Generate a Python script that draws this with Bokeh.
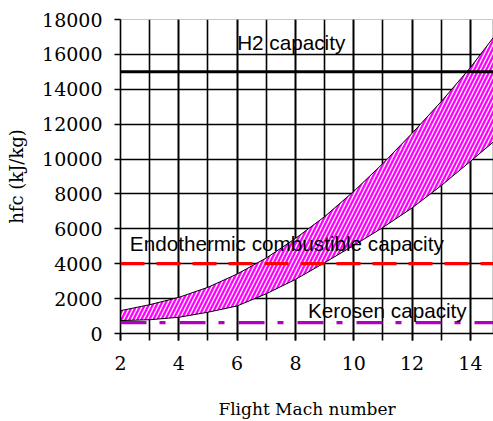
from bokeh.plotting import figure
from bokeh.models import Range1d, Span, Label, FixedTicker
from bokeh.embed import file_html
from bokeh.resources import INLINE

# Flight Mach number samples for the required heat-sink band
mach = [2, 3, 4, 5, 6, 7, 8, 9, 10, 11, 12, 13, 14, 14.8]
# Upper and lower bounds of the required fuel heat capacity (kJ/kg)
hfc_upper = [1310, 1650, 2070, 2650, 3410, 4330, 5450, 6700, 8150, 9750, 11480, 13300, 15250, 17000]
hfc_lower = [740, 790, 930, 1220, 1580, 2280, 3100, 4060, 5050, 6080, 7200, 8480, 9870, 11000]

# Fuel cooling capacities (kJ/kg)
h2_capacity = 15000
endothermic_capacity = 4000
kerosene_capacity = 620

x_ticks = [2, 4, 6, 8, 10, 12, 14]
x_minor = [2, 3, 4, 5, 6, 7, 8, 9, 10, 11, 12, 13, 14]
y_ticks = [0, 2000, 4000, 6000, 8000, 10000, 12000, 14000, 16000, 18000]

p = figure(
    width=493, height=421,
    output_backend="svg", toolbar_location=None,
    x_range=Range1d(2, 14.79), y_range=Range1d(0, 18000),
    min_border_left=120, min_border_right=0,
    min_border_top=19, min_border_bottom=88,
)
p.background_fill_color = "white"
p.border_fill_color = "white"
p.outline_line_color = "#c8c8c8"
p.outline_line_width = 1

serif = "DejaVu Serif"
sans = "Liberation Sans"

# x axis
p.xaxis.ticker = FixedTicker(ticks=x_ticks, minor_ticks=x_minor)
p.xaxis.axis_label = "Flight Mach number"
p.xaxis.axis_label_text_font = serif
p.xaxis.axis_label_text_font_size = "17px"
p.xaxis.axis_label_text_font_style = "normal"
p.xaxis.axis_label_text_color = "black"
p.xaxis.axis_label_standoff = 26
p.xaxis.major_label_text_font = serif
p.xaxis.major_label_text_font_size = "19px"
p.xaxis.major_label_text_color = "black"
p.xaxis.major_label_standoff = 15
p.xaxis.major_tick_out = 7
p.xaxis.major_tick_in = 0
p.xaxis.minor_tick_out = 7
p.xaxis.minor_tick_in = 0

# y axis
p.yaxis.ticker = FixedTicker(ticks=y_ticks, minor_ticks=[])
p.yaxis.axis_label = "hfc (kJ/kg)"
p.yaxis.axis_label_text_font = serif
p.yaxis.axis_label_text_font_size = "18px"
p.yaxis.axis_label_text_font_style = "normal"
p.yaxis.axis_label_text_color = "black"
p.yaxis.axis_label_standoff = 12
p.yaxis.major_label_text_font = serif
p.yaxis.major_label_text_font_size = "19px"
p.yaxis.major_label_text_color = "black"
p.yaxis.major_label_standoff = 12
p.yaxis.major_tick_out = 6
p.yaxis.major_tick_in = 0

for ax in (p.xaxis, p.yaxis):
    ax.axis_line_color = "black"
    ax.axis_line_width = 1.6
    ax.major_tick_line_color = "black"
    ax.major_tick_line_width = 1.6
    ax.minor_tick_line_color = "black"
    ax.minor_tick_line_width = 1.6

# grid: every Mach number, every 2000 kJ/kg
p.xgrid.ticker = FixedTicker(ticks=x_ticks, minor_ticks=x_minor)
p.xgrid.grid_line_color = "black"
p.xgrid.grid_line_width = 1.6
p.xgrid.minor_grid_line_color = "black"
p.xgrid.minor_grid_line_width = 1.6
p.ygrid.ticker = FixedTicker(ticks=y_ticks)
p.ygrid.grid_line_color = "black"
p.ygrid.grid_line_width = 1.6

# hatched band of required heat sink
p.varea(
    x=mach, y1=hfc_lower, y2=hfc_upper,
    fill_color="#FF00FF",
    hatch_pattern="/", hatch_color="white",
    hatch_scale=8, hatch_weight=1.3,
)
p.line(mach, hfc_upper, line_color="black", line_width=1)
p.line(mach, hfc_lower, line_color="black", line_width=1)

# capacity levels
p.add_layout(Span(location=h2_capacity, dimension="width",
                  line_color="black", line_width=3))
p.add_layout(Span(location=endothermic_capacity, dimension="width",
                  line_color="#FF0000", line_width=3.3, line_dash="24 12"))
p.add_layout(Span(location=kerosene_capacity, dimension="width",
                  line_color="#B000C0", line_width=3.3, line_dash="26 13 6 14"))

label_style = dict(text_font=sans, text_font_size="20.7px",
                   text_color="black", text_baseline="alphabetic")
p.add_layout(Label(x=6.0, y=16700, text="H2 capacity", **label_style))
p.add_layout(Label(x=2.32, y=5180, text="Endothermic combustible capacity", **label_style))
p.add_layout(Label(x=8.43, y=1330, text="Kerosen capacity", **label_style))

open("out.html", "w").write(file_html(p, INLINE))
